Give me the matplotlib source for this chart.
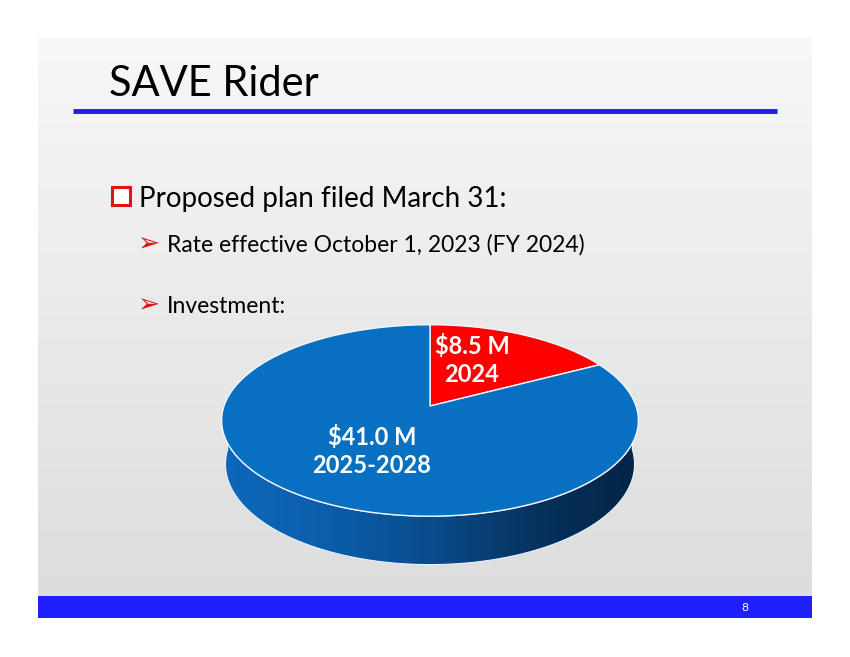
import numpy as np
import matplotlib
matplotlib.use("Agg")
import matplotlib.pyplot as plt
from matplotlib.patches import Polygon, Rectangle
from matplotlib.colors import LinearSegmentedColormap

# Slide text
title = "SAVE Rider"
bullet_main = "Proposed plan filed March 31:"
sub_bullets = ["Rate effective October 1, 2023 (FY 2024)", "Investment:"]
page_no = "8"

# Pie data (investment, $M)
values = [8.5, 41.0]
labels = ["\\$8.5 M\n2024", "\\$41.0 M\n2025-2028"]
colors = ["#ff0000", "#0870c0"]
label_pos = [(472, 360), (372, 451)]

# 3D pie geometry (pixels)
cx, cy = 430, 406
S = 206
D = 5.9
tilt = np.radians(27)
h = 0.24


def proj(a, Y):
    X = np.cos(a)
    Z = np.sin(a)
    f = D / (D + Z * np.cos(tilt) - Y * np.sin(tilt))
    return cx + X * f * S, cy - (Z * np.sin(tilt) + Y * np.cos(tilt)) * f * S


fig = plt.figure(figsize=(8.5, 6.57), dpi=100)
ax = fig.add_axes([0, 0, 1, 1])
ax.set_xlim(0, 850)
ax.set_ylim(657, 0)
ax.axis("off")

# slide background with soft vertical gradient
grad = np.linspace(0, 1, 256).reshape(-1, 1)
bg_cmap = LinearSegmentedColormap.from_list("bg", ["#f7f7f7", "#dcdcdc"])
ax.imshow(grad, cmap=bg_cmap, extent=(38, 812, 618, 38), aspect="auto", zorder=0)

# title and underline
ax.text(109, 96, title, fontsize=30, family="Lato", color="black", va="baseline")
ax.plot([73, 777], [111, 111], color="#1e1ee6", lw=3.5, solid_capstyle="butt")

# bullets
ax.add_patch(Rectangle((114, 189), 18, 18, facecolor="#b80000", edgecolor="none", zorder=2))
ax.add_patch(Rectangle((112, 187), 18, 18, facecolor="white", edgecolor="#e81010", lw=2.2, zorder=3))
ax.text(139, 207, bullet_main, fontsize=20, family="Lato", color="black", va="baseline")
for i, s in enumerate(sub_bullets):
    yb = 252 + i * 61
    ax.text(137, yb - 1, "\u27a2", fontsize=19, family="DejaVu Sans", color="#e01010", va="baseline")
    ax.text(167, yb, s, fontsize=16.5, family="Lato", color="black", va="baseline")

# pie side (front half of the cylinder wall)
a_side = np.linspace(np.pi, 2 * np.pi, 200)
tx, ty = proj(a_side, 0.0)
bx, by = proj(a_side[::-1], -h)
side_xy = np.column_stack([np.r_[tx, bx], np.r_[ty, by]])
side = Polygon(side_xy, closed=True, facecolor="none", edgecolor="#e8f0ff", lw=0.8, zorder=4)
ax.add_patch(side)
side_cmap = LinearSegmentedColormap.from_list(
    "side", ["#0d68bb", "#0b5eab", "#0a4c8d", "#06335f", "#032444"])
sgrad = np.linspace(0, 1, 256).reshape(1, -1)
im = ax.imshow(sgrad, cmap=side_cmap, aspect="auto", zorder=3,
               extent=(side_xy[:, 0].min(), side_xy[:, 0].max(),
                       side_xy[:, 1].max(), side_xy[:, 1].min()))
clip = Polygon(side_xy, closed=True, transform=ax.transData)
im.set_clip_path(clip)

# pie top: slices start at 12 o'clock, going clockwise
total = sum(values)
start = np.pi / 2
for v, c in zip(values, colors):
    sweep = 2 * np.pi * v / total
    arc = np.linspace(start, start - sweep, 200)
    ax_, ay_ = proj(arc, 0.0)
    pts = np.column_stack([np.r_[cx, ax_], np.r_[cy, ay_]])
    ax.add_patch(Polygon(pts, closed=True, facecolor=c, edgecolor="#f2f6ff", lw=1.0, zorder=5))
    start -= sweep

for lab, (lx, ly) in zip(labels, label_pos):
    ax.text(lx, ly, lab, fontsize=17, family="Lato", fontweight="bold", color="white",
            ha="center", va="center", linespacing=1.3, zorder=6)

# footer bar
ax.add_patch(Rectangle((38, 596), 774, 22, facecolor="#2020ff", edgecolor="none", zorder=2))
ax.text(745, 608, page_no, fontsize=8, family="DejaVu Sans", color="white",
        ha="center", va="center", zorder=3)

fig.savefig("out.png", dpi=100)
